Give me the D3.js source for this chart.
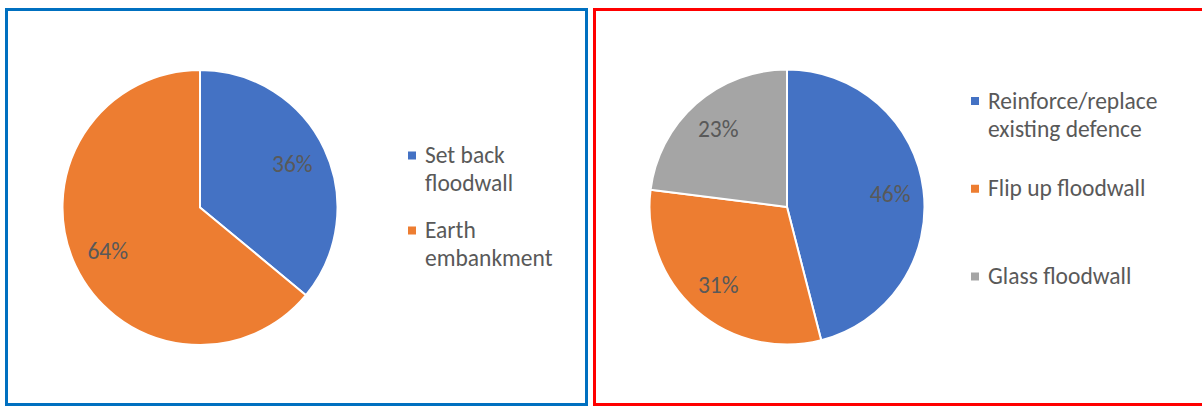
<!DOCTYPE html>
<html>
<head>
<meta charset="utf-8">
<script src="https://cdn.jsdelivr.net/npm/d3@7"></script>
<style>
  html, body { margin: 0; padding: 0; background: #fff; }
  svg { display: block; }
  text { font-family: Carlito, Calibri, Lato, "Open Sans", sans-serif; fill: #595959; }
</style>
</head>
<body>
<svg id="chart" width="1202" height="406"></svg>
<script>
// Left panel: preferred option for new defences
const leftCategories = [["Set back", "floodwall"], ["Earth", "embankment"]];
const leftValues = [36, 64];
const leftColors = ["#4472C4", "#ED7D31"];

// Right panel: preferred option for existing defences
const rightCategories = [["Reinforce/replace", "existing defence"], ["Flip up floodwall"], ["Glass floodwall"]];
const rightValues = [46, 31, 23];
const rightColors = ["#4472C4", "#ED7D31", "#A5A5A5"];

const svg = d3.select("#chart");
const fontSize = 23.5;
const lineGap = 28.4;

// Panel frames
svg.append("rect")
  .attr("x", 6.5).attr("y", 9.5).attr("width", 580).attr("height", 395)
  .attr("fill", "none").attr("stroke", "#0070C0").attr("stroke-width", 3);
svg.append("rect")
  .attr("x", 594.5).attr("y", 9.5).attr("width", 620).attr("height", 395)
  .attr("fill", "none").attr("stroke", "#FF0000").attr("stroke-width", 3);

function drawPie(opts) {
  const { categories, values, colors, cx, cy, r, labelR, legendX, legendY, legendStep } = opts;
  const total = d3.sum(values);
  const pie = d3.pie().sort(null).value(d => d);
  const arcs = pie(values);
  const arc = d3.arc().innerRadius(0).outerRadius(r);
  const labelArc = d3.arc().innerRadius(labelR).outerRadius(labelR);
  const fmt = d3.format(".0%");

  const g = svg.append("g").attr("transform", `translate(${cx},${cy})`);
  g.selectAll("path.slice")
    .data(arcs)
    .join("path")
    .attr("class", "slice")
    .attr("d", arc)
    .attr("fill", (d, i) => colors[i])
    .attr("stroke", "#fff")
    .attr("stroke-width", 2)
    .attr("stroke-linejoin", "round");

  g.selectAll("text.pct")
    .data(arcs)
    .join("text")
    .attr("class", "pct")
    .attr("transform", d => `translate(${labelArc.centroid(d)})`)
    .attr("text-anchor", "middle")
    .attr("dy", "0.35em")
    .style("font-size", fontSize + "px")
    .text(d => fmt(d.data / total));

  const lg = svg.append("g").attr("transform", `translate(${legendX},${legendY})`);
  const items = lg.selectAll("g.item")
    .data(categories)
    .join("g")
    .attr("class", "item")
    .attr("transform", (d, i) => `translate(0,${i * legendStep})`);
  items.append("rect")
    .attr("x", 0).attr("y", -4).attr("width", 8).attr("height", 8)
    .attr("fill", (d, i) => colors[i]);
  items.append("text")
    .attr("x", 17)
    .attr("y", 7.5)
    .style("font-size", fontSize + "px")
    .selectAll("tspan")
    .data(d => d)
    .join("tspan")
    .attr("x", 17)
    .attr("dy", (d, i) => i === 0 ? 0 : lineGap)
    .text(d => d);
}

drawPie({
  categories: leftCategories, values: leftValues, colors: leftColors,
  cx: 200, cy: 207.5, r: 137.5, labelR: 102,
  legendX: 408, legendY: 155.5, legendStep: 75
});

drawPie({
  categories: rightCategories, values: rightValues, colors: rightColors,
  cx: 787, cy: 207, r: 137.5, labelR: 104,
  legendX: 971, legendY: 101, legendStep: 87.75
});
</script>
</body>
</html>
